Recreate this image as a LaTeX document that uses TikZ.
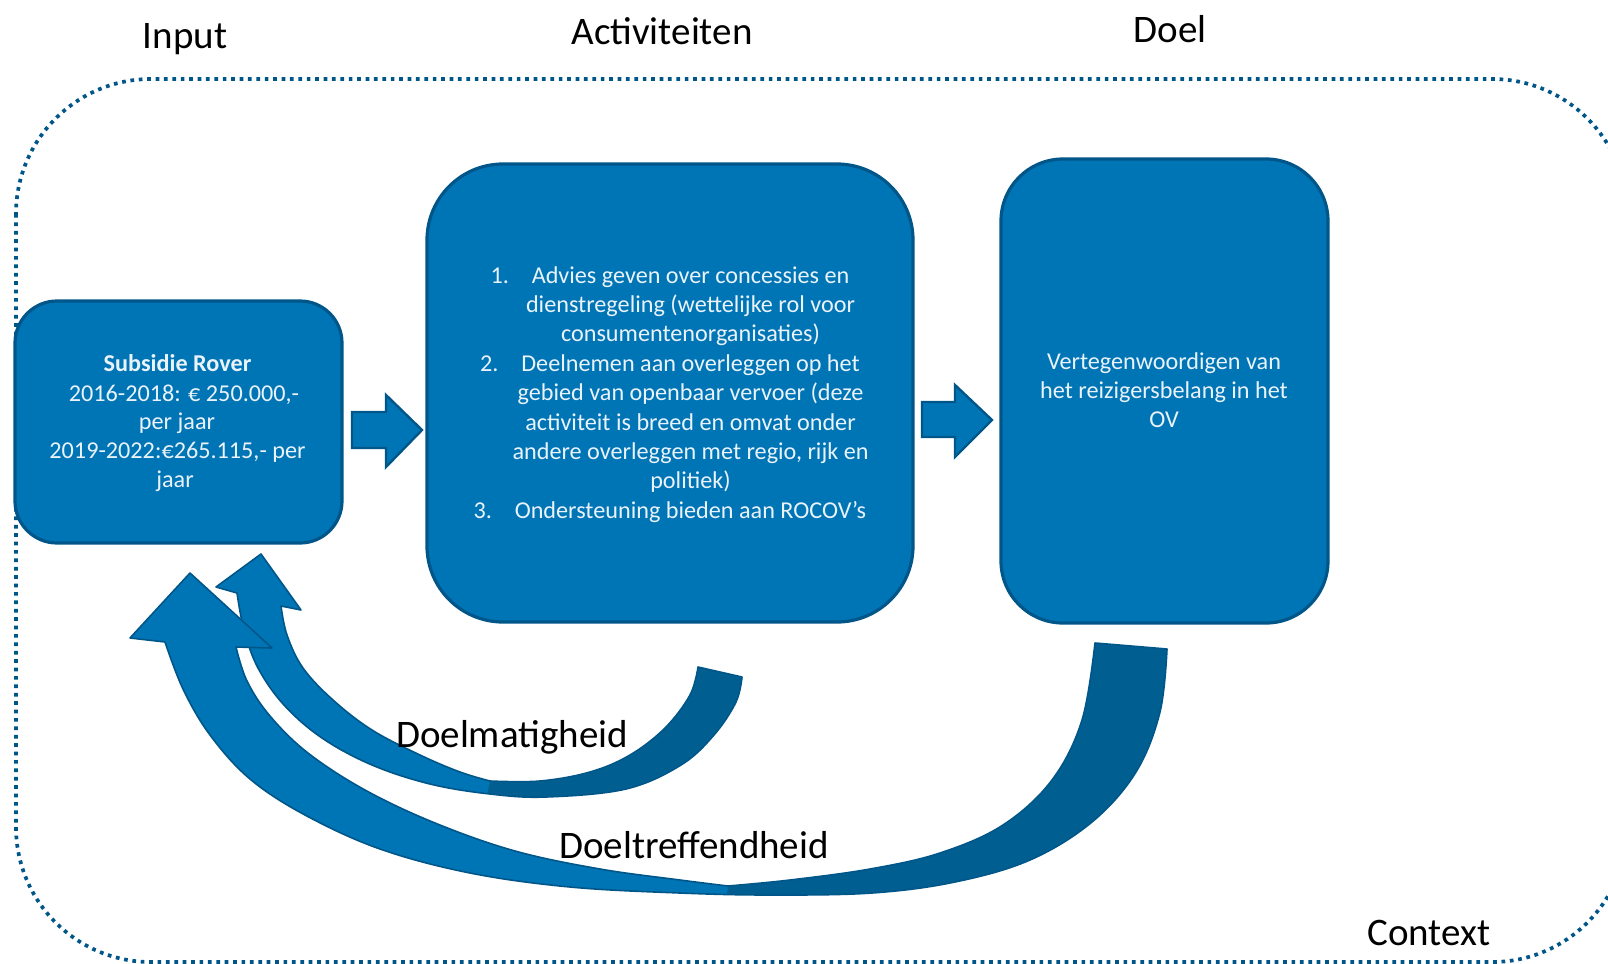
\documentclass[tikz,border=0pt]{standalone}
\usepackage{fontspec}
\setmainfont{Carlito}
\definecolor{boxblue}{RGB}{0,117,182}
\definecolor{edgeblue}{RGB}{0,86,136}
\definecolor{darkblue}{RGB}{0,94,145}
\definecolor{boxtext}{RGB}{234,242,250}
\begin{document}
\begin{tikzpicture}[x=0.5pt,y=-0.5pt,
  bluebox/.style={draw=edgeblue, fill=boxblue, line width=1.6pt, inner sep=0pt},
  boxtxt/.style={text=boxtext, font=\fontsize{12.1pt}{14.7pt}\selectfont, inner sep=0pt, anchor=base},
  headtxt/.style={font=\fontsize{19.5pt}{23pt}\selectfont, inner sep=0pt, anchor=base},
  blockarrow/.style={fill=boxblue, draw=edgeblue, line width=1.2pt, line join=miter},
  curveedge/.style={draw=edgeblue, line width=0.8pt, line join=round}]
\useasboundingbox (0,0) rectangle (1608,964);

% context frame
\draw[edgeblue, line width=1.85pt, dash pattern=on 1.85pt off 2.35pt, rounded corners=67.5pt]
  (16,79) rectangle (1627,962);

% headings
\node[headtxt] (hin) at (185,48) {Input};
\node[headtxt] (hact) at (662,44) {Activiteiten};
\node[headtxt] (hdoel) at (1170,42) {Doel};
\node[headtxt] (hctx) at (1429,945) {Context};

% boxes
\node[bluebox, minimum width=163.5pt, minimum height=121pt, rounded corners=21pt] (inbox) at (178.5,422) {};
\node[bluebox, minimum width=243pt, minimum height=229pt, rounded corners=38pt] (actbox) at (670,393) {};
\node[bluebox, minimum width=163.5pt, minimum height=232pt, rounded corners=31pt] (doelbox) at (1164.5,391) {};

% input text
\node[boxtxt] (i1) at (177.5,371) {\bfseries Subsidie Rover};
\node[boxtxt] (i2) at (184,401) {2016-2018: € 250.000,-};
\node[boxtxt] (i3) at (177,429.5) {per jaar};
\node[boxtxt] (i4) at (177.5,458.3) {2019-2022:€265.115,- per};
\node[boxtxt] (i5) at (175,487) {jaar};

% activities text
\node[boxtxt] (a1) at (690.5,283) {Advies geven over concessies en};
\node[boxtxt, anchor=base east] (n1) at ([xshift=-11pt]a1.base west) {1.};
\node[boxtxt] (a2) at (690.5,312.4) {dienstregeling (wettelijke rol voor};
\node[boxtxt] (a3) at (690.5,341.8) {consumentenorganisaties)};
\node[boxtxt] (a4) at (690.5,371.2) {Deelnemen aan overleggen op het};
\node[boxtxt, anchor=base east] (n2) at ([xshift=-11pt]a4.base west) {2.};
\node[boxtxt] (a5) at (690.5,400.6) {gebied van openbaar vervoer (deze};
\node[boxtxt] (a6) at (690.5,430) {activiteit is breed en omvat onder};
\node[boxtxt] (a7) at (690.5,459.4) {andere overleggen met regio, rijk en};
\node[boxtxt] (a8) at (690.5,488.8) {politiek)};
\node[boxtxt] (a9) at (690.5,518.2) {Ondersteuning bieden aan ROCOV’s};
\node[boxtxt, anchor=base east] (n3) at ([xshift=-11pt]a9.base west) {3.};

% doel text
\node[boxtxt] (d1) at (1164,369) {Vertegenwoordigen van};
\node[boxtxt] (d2) at (1164,398) {het reizigersbelang in het};
\node[boxtxt] (d3) at (1164,427) {OV};

% block arrows
\draw[blockarrow] (352,412) -- (386,412) -- (386,395) -- (422,430) -- (386,467) -- (386,448) -- (352,448) -- cycle;
\draw[blockarrow] (922,402) -- (955,402) -- (955,385) -- (992,420) -- (955,457) -- (955,437) -- (922,437) -- cycle;

% small curved arrow (Doelmatigheid)
\def\smallinner{(490,781) (540,781) (590,772) (630,755) (665,728) (690,695) (698,667)}
\def\smallarrow{(261,554) -- (301,610) -- (281,606)
 -- plot[smooth,tension=0.6] coordinates {(281,606) (287,635) (303,668) (333,700) (372,730) (420,755) (460,772) (490,781)}
 -- plot[smooth,tension=0.6] coordinates \smallinner
 -- (742,677)
 -- plot[smooth,tension=0.6] coordinates {(742,677) (736,702) (714,735) (681,765) (626,789) (546,797) (490,794) (430,784) (372,765) (322,738) (284,705) (258,668) (244,630) (237,593)}
 -- (216,587) -- cycle}
\fill[boxblue] \smallarrow;
\begin{scope}
  \clip \smallarrow;
  \fill[darkblue] (490,781) -- plot[smooth,tension=0.6] coordinates \smallinner
    -- (780,650) -- (780,830) -- (480,830) -- cycle;
\end{scope}
\draw[curveedge] \smallarrow;

% big curved arrow (Doeltreffendheid)
\def\biginner{(728,886) (790,880) (870,869) (940,853) (1003,825) (1052,780) (1082,720) (1095,643)}
\def\bigarrow{(190,573) -- (272,648) -- (236,647)
 -- plot[smooth,tension=0.6] coordinates {(236,647) (247,681) (270,716) (308,753) (365,790) (435,823) (515,851) (600,869) (680,880) (728,886)}
 -- plot[smooth,tension=0.6] coordinates \biginner
 -- (1167,649)
 -- plot[smooth,tension=0.6] coordinates {(1167,649) (1160,712) (1136,772) (1092,822) (1030,860) (955,882) (872,893) (770,895) (680,893) (570,887) (470,873) (380,849) (305,815) (250,779) (210,735) (183,689) (165,642)}
 -- (130,638) -- cycle}
\fill[boxblue] \bigarrow;
\begin{scope}
  \clip \bigarrow;
  \fill[darkblue] (728,886) -- plot[smooth,tension=0.6] coordinates \biginner
    -- (1200,630) -- (1200,950) -- (720,950) -- cycle;
\end{scope}
\draw[curveedge] \bigarrow;

% arrow labels
\node[headtxt] (lblm) at (512,747) {Doelmatigheid};
\node[headtxt] (lblt) at (694,858) {Doeltreffendheid};
\end{tikzpicture}
\end{document}
